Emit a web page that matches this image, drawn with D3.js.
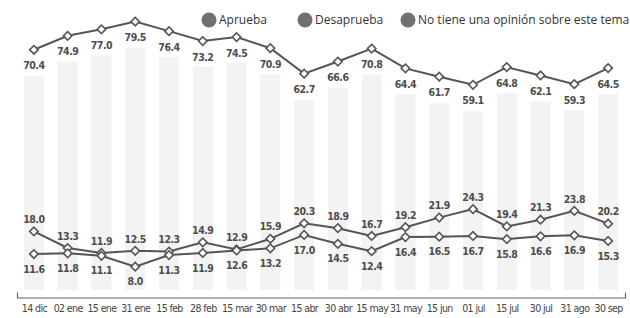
<!DOCTYPE html>
<html>
<head>
<meta charset="utf-8">
<script src="https://cdn.jsdelivr.net/npm/d3@7"></script>
<style>
  body { margin: 0; background: #fff; }
  svg { display: block; }
</style>
</head>
<body>
<div id="chart"></div>
<script>
// survey dates (x categories)
const dates = [
  "14 dic", "02 ene", "15 ene", "31 ene", "15 feb", "28 feb", "15 mar", "30 mar", "15 abr",
  "30 abr", "15 may", "31 may", "15 jun", "01 jul", "15 jul", "30 jul", "31 ago", "30 sep",
];
// percentages
const aprueba = [70.4, 74.9, 77.0, 79.5, 76.4, 73.2, 74.5, 70.9, 62.7, 66.6, 70.8, 64.4, 61.7, 59.1, 64.8, 62.1, 59.3, 64.5];
const desaprueba = [18.0, 13.3, 11.9, 12.5, 12.3, 14.9, 12.9, 15.9, 20.3, 18.9, 16.7, 19.2, 21.9, 24.3, 19.4, 21.3, 23.8, 20.2];
const noOpinion = [11.6, 11.8, 11.1, 8.0, 11.3, 11.9, 12.6, 13.2, 17.0, 14.5, 12.4, 16.4, 16.5, 16.7, 15.8, 16.6, 16.9, 15.3];
const legendLabels = ["Aprueba", "Desaprueba", "No tiene una opinión sobre este tema"];

const width = 630,
  height = 318;
const lineColor = "#555";
const labelFont = "'DejaVu Sans Condensed', 'Roboto', sans-serif";

const svg = d3
  .select("#chart")
  .append("svg")
  .attr("width", width)
  .attr("height", height);

// x: one slot per date, the axis line runs past the first/last point
const x = d3.scalePoint().domain(dates).range([17, 625]).padding(0.5);

// the printed chart squeezes the gap between the groups, so the scale is piecewise
const y = d3.scaleLinear().domain([0, 30, 50, 80]).range([295, 189, 113, 20]);

// faint columns behind each date (newsprint show-through)
svg
  .append("g")
  .selectAll("rect")
  .data(dates)
  .join("rect")
  .attr("x", (d) => x(d) - 10)
  .attr("y", (d, i) => y(aprueba[i]) + 26)
  .attr("width", 20)
  .attr("height", (d, i) => 290 - (y(aprueba[i]) + 26))
  .attr("fill", "#f3f3f3");

// x axis
const xAxis = svg
  .append("g")
  .attr("transform", "translate(0,297.5)")
  .call(d3.axisBottom(x).tickSize(0).tickSizeOuter(-5).tickPadding(7));
xAxis.select(".domain").attr("stroke", "#666").attr("stroke-width", 1.2);
xAxis
  .selectAll("text")
  .attr("fill", "#444")
  .style("font-family", labelFont)
  .style("font-size", "10.5px")
  .style("letter-spacing", "-0.6px");

const series = [
  { values: aprueba, dy: 16 },
  { values: desaprueba, dy: -12 },
  { values: noOpinion, dy: 15 },
];

const line = d3
  .line()
  .x((d, i) => x(dates[i]))
  .y((d) => y(d));

for (const s of series) {
  svg
    .append("path")
    .datum(s.values)
    .attr("fill", "none")
    .attr("stroke", lineColor)
    .attr("stroke-width", 2)
    .attr("d", line);

  // white diamonds on each point
  svg
    .append("g")
    .selectAll("path")
    .data(s.values)
    .join("path")
    .attr("transform", (d, i) => "translate(" + x(dates[i]) + "," + y(d) + ") rotate(45)")
    .attr("d", d3.symbol().type(d3.symbolSquare).size(36))
    .attr("fill", "#fff")
    .attr("stroke", lineColor)
    .attr("stroke-width", 1.6);

  svg
    .append("g")
    .selectAll("text")
    .data(s.values)
    .join("text")
    .attr("x", (d, i) => x(dates[i]))
    .attr("y", (d) => y(d) + s.dy)
    .attr("dy", "0.35em")
    .attr("text-anchor", "middle")
    .attr("fill", "#4d4d4d")
    .style("font-family", labelFont)
    .style("font-weight", "bold")
    .style("font-size", "10.5px")
    .style("letter-spacing", "-0.5px")
    .text((d) => d.toFixed(1));
}

// legend
const legendX = [209, 305, 408];
const legend = svg
  .append("g")
  .selectAll("g")
  .data(legendLabels)
  .join("g")
  .attr("transform", (d, i) => "translate(" + legendX[i] + ",20)");
legend.append("circle").attr("r", 7.5).attr("fill", "#707070");
legend
  .append("text")
  .attr("x", 10)
  .attr("dy", "0.35em")
  .attr("fill", "#333")
  .style("font-family", "'Open Sans', sans-serif")
  .style("font-size", "12px")
  .text((d) => d);
</script>
</body>
</html>
